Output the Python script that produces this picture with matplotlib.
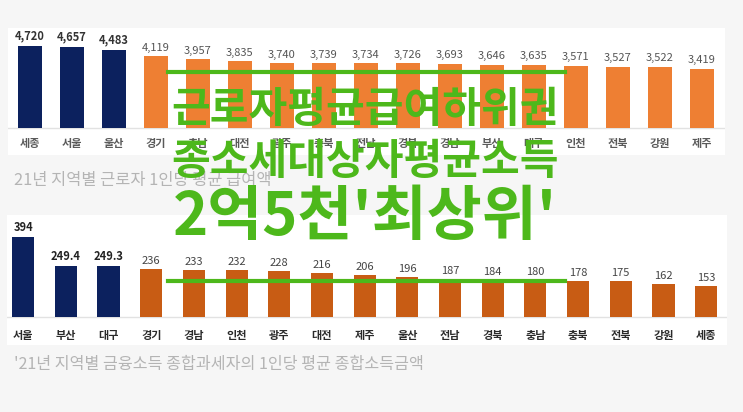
import matplotlib
matplotlib.use("Agg")
import matplotlib.pyplot as plt
from matplotlib.lines import Line2D
from matplotlib.transforms import blended_transform_factory

plt.rcParams['font.family'] = ['Noto Sans CJK KR', 'DejaVu Sans']

# 근로자 1인당 평균 급여액 (만원)
top_regions = ['세종', '서울', '울산', '경기', '충남', '대전', '광주', '충북', '전남',
               '경북', '경남', '부산', '대구', '인천', '전북', '강원', '제주']
top_values = [4720, 4657, 4483, 4119, 3957, 3835, 3740, 3739, 3734,
              3726, 3693, 3646, 3635, 3571, 3527, 3522, 3419]

# 금융소득 종합과세자 1인당 평균 종합소득금액 (백만원)
bot_regions = ['서울', '부산', '대구', '경기', '경남', '인천', '광주', '대전', '제주',
               '울산', '전남', '경북', '충남', '충북', '전북', '강원', '세종']
bot_values = [394, 249.4, 249.3, 236, 233, 232, 228, 216, 206,
              196, 187, 184, 180, 178, 175, 162, 153]
bot_labels = ['394', '249.4', '249.3', '236', '233', '232', '228', '216', '206',
              '196', '187', '184', '180', '178', '175', '162', '153']

top_caption = '21년 지역별 근로자 1인당 평균 급여액'
bot_caption = "'21년 지역별 금융소득 종합과세자의 1인당 평균 종합소득금액"
headline = ['근로자평균급여하위권', '종소세대상자평균소득', "2억5천'최상위'"]

W, H = 743, 412
NAVY = '#0c215e'
ORANGE = '#ee7f33'
DARK_ORANGE = '#c85c14'
GREEN = '#4db81b'
BG = '#f6f6f6'


def box(x0, y0, x1, y1):
    # pixel box (from top-left) -> figure fraction
    return [x0 / W, 1 - y1 / H, (x1 - x0) / W, (y1 - y0) / H]


fig = plt.figure(figsize=(W / 100, H / 100), dpi=100, facecolor=BG)


def bar_panel(rect, regions, values, labels, colors, ylim, xlim, width,
              val_colors, val_weights, cat_color, lab_off, cat_y):
    ax = fig.add_axes(rect)
    ax.set_facecolor('white')
    x = range(len(values))
    ax.bar(x, values, width=width, color=colors, zorder=2)
    ax.axhline(0, color='#e2e2e2', lw=1, zorder=1)
    for i, (v, lab) in enumerate(zip(values, labels)):
        ax.text(i, v + lab_off, lab, ha='center', va='bottom', fontsize=8,
                color=val_colors[i], fontweight=val_weights[i])
    tr = blended_transform_factory(ax.transData, ax.transAxes)
    for i, r in enumerate(regions):
        ax.text(i, cat_y, r, transform=tr, ha='center', va='center',
                fontsize=8, color=cat_color, fontweight='bold')
    ax.set_xlim(*xlim)
    ax.set_ylim(*ylim)
    ax.set_xticks([])
    ax.set_yticks([])
    for s in ax.spines.values():
        s.set_visible(False)
    return ax


top_colors = [NAVY] * 3 + [ORANGE] * 14
bot_colors = [NAVY] * 3 + [DARK_ORANGE] * 14
top_lab = ['{:,}'.format(v) for v in top_values]

bar_panel(box(8, 28, 725, 155), top_regions, top_values, top_lab, top_colors,
          (-1554, 5756), (-0.52, 16.55), 0.57,
          ['#333333'] * 3 + ['#555555'] * 14, ['bold'] * 3 + ['normal'] * 14,
          '#5a5a5a', 200, 0.09)

bar_panel(box(7, 215, 727, 345), bot_regions, bot_values, bot_labels, bot_colors,
          (-138, 502), (-0.38, 16.49), 0.52,
          ['#222222'] * 3 + ['#444444'] * 14, ['bold'] * 3 + ['normal'] * 14,
          '#2a2a2a', 15, 0.07)

fig.text(14 / W, 1 - 181 / H, top_caption, fontsize=11.8, color='#b4b4b4',
         va='center', ha='left')
fig.text(14 / W, 1 - 365 / H, bot_caption, fontsize=11.6, color='#b4b4b4',
         va='center', ha='left')

# green overlay
for yy in (72, 281):
    fig.add_artist(Line2D([168 / W, 565 / W], [1 - yy / H, 1 - yy / H],
                          color=GREEN, lw=3, transform=fig.transFigure,
                          zorder=10))

ys = [110, 162, 218]
sizes = [30.3, 30.3, 43]
for t, yy, fs in zip(headline, ys, sizes):
    fig.text(365 / W, 1 - yy / H, t, fontsize=fs, color=GREEN,
             fontweight='bold', ha='center', va='center', zorder=11)

fig.savefig('out.png', dpi=100, facecolor=BG)
